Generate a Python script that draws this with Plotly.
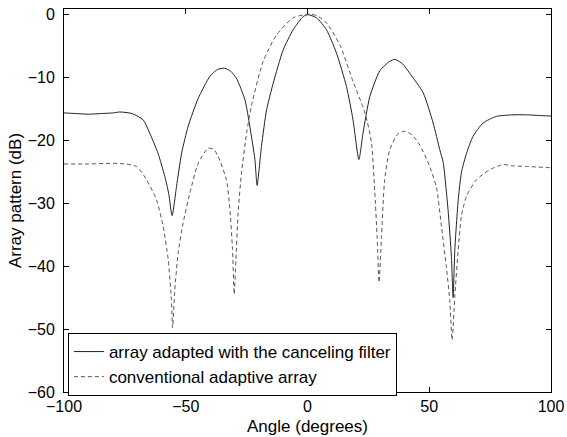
import plotly.graph_objects as go

# Solid: array adapted with the canceling filter
solid_x = [-100, -95, -90, -85, -80, -77, -72, -67.5, -64.8, -61.4, -58.6, -57, -55.6,
           -53.8, -51.7, -49, -44.9, -40.1, -37, -34, -31.5, -29.2, -25.7, -23.7, -21.6,
           -20.7, -18.9, -16.8, -14.1, -10, -5.9, -1.8, 0.2, 3.7, 7.8, 11.9, 16, 18.7,
           21.1, 22.8, 25.6, 29.7, 33.8, 35.9, 39, 42, 47.5, 51.6, 54.3, 55.7, 57.7,
           59.1, 59.8, 60.5, 61.9, 63.2, 65.3, 68, 72.1, 77.6, 84.4, 90, 95, 100]
solid_y = [-15.7, -15.8, -15.9, -15.8, -15.7, -15.55, -15.8, -16.8, -18.9, -22.1, -25.8, -28.5, -32.0,
           -27.4, -22.1, -17.8, -13.4, -9.9, -8.8, -8.6, -9.1, -10.2, -13.6, -17.8, -23.1,
           -27.2, -21.0, -15.2, -11.0, -5.7, -2.5, -0.4, -0.1, -0.6, -2.5, -6.2, -11.5, -16.8,
           -23.1, -18.9, -13.1, -9.0, -7.5, -7.2, -7.9, -9.4, -12.5, -17.3, -21.5, -23.5, -31.0,
           -38.5, -45.0, -37.4, -29.5, -25.2, -22.1, -19.4, -17.3, -16.25, -16.0, -16.0, -16.1, -16.2]

# Dashed: conventional adaptive array
dashed_x = [-100, -90, -80, -75, -70.2, -66.1, -62, -59.3, -57.2, -55.9, -55.4, -54.5, -53.1,
            -51.1, -48.3, -44.9, -40.8, -38.5, -36.7, -33.3, -31.9, -30.8, -30.1, -29.4, -28.5,
            -27.1, -25, -23, -18.2, -12.7, -5.9, 1, 4, 7.8, 13.3, 18.7, 23, 24.5, 26.3, 27.6,
            28.6, 29.4, 30.4, 31.7, 33.8, 37.2, 40, 43, 46.1, 48.9, 50.2, 53, 55, 57, 58.4,
            59.4, 60.5, 61.9, 63.2, 65.3, 69.4, 74.9, 80.3, 84.4, 90, 100]
dashed_y = [-23.8, -23.8, -23.7, -23.8, -24.2, -26.3, -29.5, -33.7, -39.0, -45.3, -49.8, -43.8, -37.9,
            -33.2, -28.4, -23.7, -21.3, -21.5, -22.6, -26.3, -30.8, -37.4, -44.5, -39.0, -31.6,
            -25.2, -18.9, -14.5, -7.5, -3.3, -0.6, 0.0, -0.3, -1.4, -4.9, -10.7, -15.0, -17.0, -20.5, -28.0,
            -35.5, -42.6, -35.3, -26.3, -21.5, -19.0, -18.6, -19.2, -20.8, -23.0, -24.2, -27.6, -33.7, -40.1, -45.3,
            -51.8, -44.8, -37.4, -32.1, -28.9, -26.3, -24.7, -23.9, -24.1, -24.2, -24.4]

x_ticks = [-100, -50, 0, 50, 100]
y_ticks = [-60, -50, -40, -30, -20, -10, 0]

FONT = "Arial, Liberation Sans, sans-serif"

fig = go.Figure()
fig.add_trace(go.Scatter(x=solid_x, y=solid_y, mode="lines",
                         name="array adapted with the canceling filter",
                         line=dict(color="#222222", width=1, shape="spline", smoothing=0.6)))
fig.add_trace(go.Scatter(x=dashed_x, y=dashed_y, mode="lines",
                         name="conventional adaptive array",
                         line=dict(color="#555555", width=1, dash="4px,3px",
                                   shape="spline", smoothing=0.6)))

axis_common = dict(showgrid=False, zeroline=False, showline=True, linecolor="black",
                   linewidth=1, mirror="ticks", ticks="inside", ticklen=5,
                   tickcolor="black", tickfont=dict(family=FONT, size=16, color="black"))

fig.update_xaxes(range=[-100, 100], tickvals=x_ticks,
                 title=dict(text="Angle (degrees)", font=dict(family=FONT, size=17, color="black"),
                            standoff=5),
                 **axis_common)
fig.update_yaxes(range=[-60, 0.8], tickvals=y_ticks, ticklabelstandoff=5,
                 title=dict(text="Array pattern (dB)", font=dict(family=FONT, size=17, color="black"),
                            standoff=1),
                 **axis_common)

fig.update_layout(
    width=567, height=437,
    margin=dict(l=64, r=16, t=9, b=45, autoexpand=False),
    paper_bgcolor="white", plot_bgcolor="white",
    font=dict(family=FONT, size=16, color="black"),
    showlegend=True,
    legend=dict(x=0.008, y=0.154, xanchor="left", yanchor="top",
                bgcolor="white", bordercolor="black", borderwidth=1,
                font=dict(family=FONT, size=17, color="black"),
                tracegroupgap=0, itemwidth=30),
)

fig.write_html("out.html")
